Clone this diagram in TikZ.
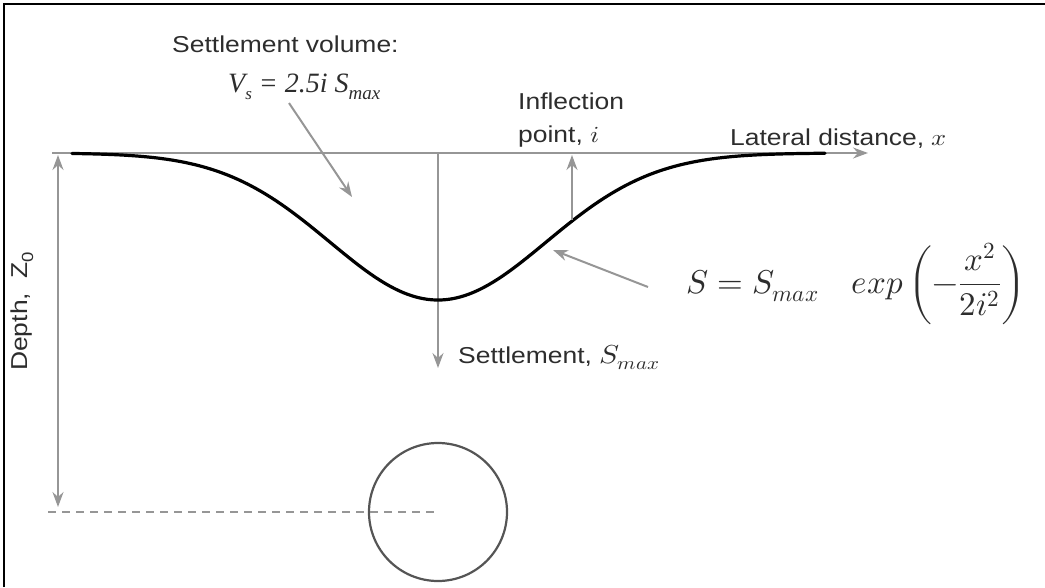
\documentclass[tikz,border=0pt]{standalone}
\usepackage{fontspec}
\usepackage{unicode-math}
\setmainfont{Liberation Sans}
\newfontfamily\serifit{Liberation Serif}
\usetikzlibrary{arrows.meta}
\definecolor{ln}{RGB}{150,150,150}
\definecolor{circ}{RGB}{85,85,85}
\definecolor{txt}{RGB}{45,45,45}
\newcommand\wtxt[1]{\scalebox{1.15}[1]{#1}}
\begin{document}
\begin{tikzpicture}[x=1pt,y=-1pt,
  gline/.style={draw=ln, line width=2pt},
  garrow/.style={gline, -{Stealth[length=15pt,width=11pt,inset=5pt]}},
  lbl/.style={inner sep=0pt, font=\fontsize{23}{27}\selectfont, text=txt},
  mth/.style={inner sep=0pt, font=\fontsize{33}{38}\selectfont, text=txt},
  ]
\useasboundingbox (0,0) rectangle (1045,587);
\draw[line width=2.5pt] (4,587) -- (4,4) -- (1045,4);
% axes
\coordinate (axL) at (52,153);
\coordinate (axR) at (868,153);
\draw[garrow] (axL) -- (axR);
\coordinate (top) at (438,153);
\coordinate (smax) at (438,368);
\draw[garrow] (top) -- (smax);
% curve
\draw[line width=3.2pt, black, line cap=round] plot[domain=72:825, samples=160] (\x, {153+147*exp(-0.5*((\x-438)/108)^2)});
% inflection arrow
\coordinate (ib) at (572,220);
\coordinate (it) at (572,155);
\draw[garrow] (ib) -- (it);
% depth
\coordinate (dt) at (58,155);
\coordinate (db) at (58,507);
\draw[gline, {Stealth[length=15pt,width=11pt,inset=5pt]}-{Stealth[length=15pt,width=11pt,inset=5pt]}] (dt) -- (db);
% tunnel
\node[circle, draw=circ, line width=2.2pt, minimum size=138pt, inner sep=0pt] (tun) at (438,512) {};
\coordinate (dl) at (48,512);
\draw[draw=ln, line width=1.6pt, dash pattern=on 8pt off 6pt] (dl) -- (tun.center);
% labels
\node[lbl, anchor=base west] (sv) at (172,52) {\wtxt{Settlement volume:}};
\node[inner sep=0pt, anchor=base west, text=txt, font=\fontsize{28}{32}\selectfont\serifit\itshape] (vs) at (228,92) {V\raisebox{-0.25em}{\fontsize{17}{20}\selectfont s} = 2.5i S\raisebox{-0.25em}{\fontsize{19}{20}\selectfont max}};
\coordinate (vsa) at (289,103);
\coordinate (vsb) at (352,197);
\draw[garrow] (vsa) -- (vsb);
\node[lbl, anchor=base west] (in1) at (518,109) {\wtxt{Inflection}};
\node[lbl, anchor=base west] (in2) at (518,142) {\wtxt{point, $i$}};
\node[lbl, anchor=base west] (lat) at (730,145) {\wtxt{Lateral distance, $x$}};
\node[mth, anchor=base west] (form) at (686,293) {$\displaystyle S = S_{max}\quad exp\left(-\frac{x^2}{2i^2}\right)$};
\coordinate (fa) at (648,287);
\coordinate (fb) at (553,250);
\draw[garrow] (fa) -- (fb);
\node[lbl, anchor=base west] (set) at (458,363) {\wtxt{Settlement, {\fontsize{26}{28}\selectfont$S_{max}$}}};
\node[lbl, rotate=90] (dep) at (22,311) {\wtxt{Depth,\ \ Z\textsubscript{0}}};
\end{tikzpicture}
\end{document}
